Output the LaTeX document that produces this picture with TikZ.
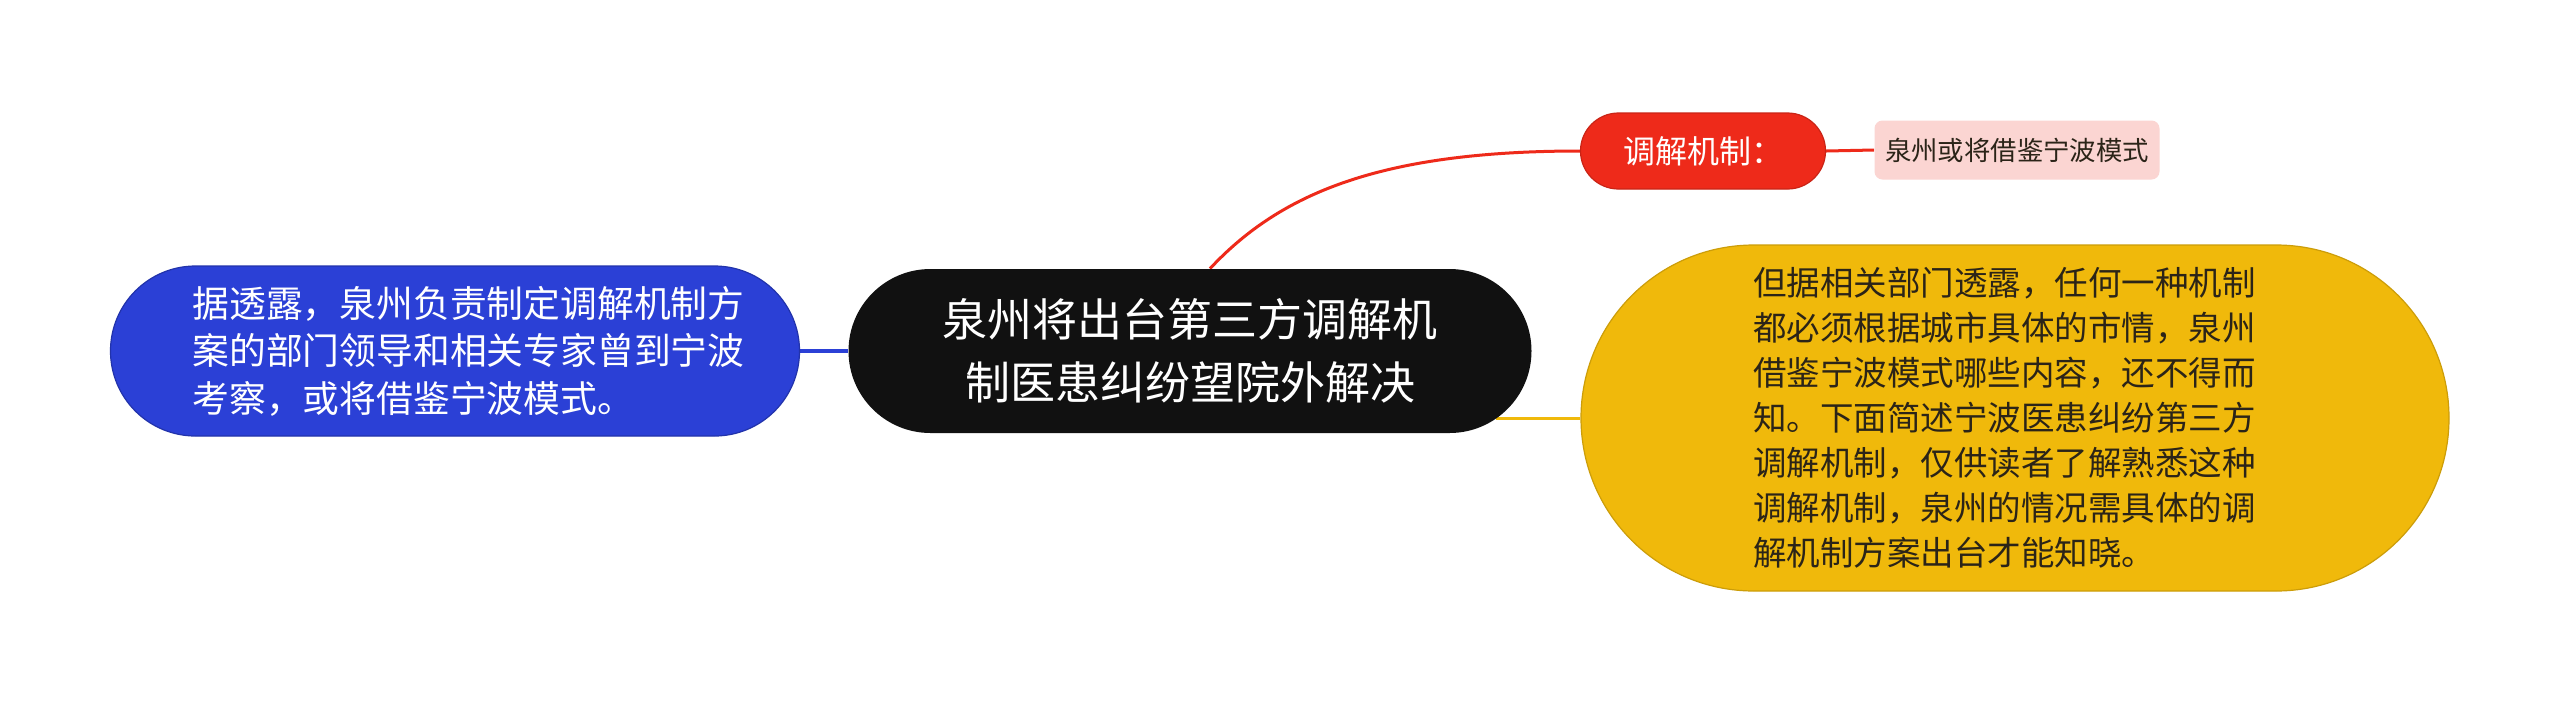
\documentclass[tikz,border=0pt]{standalone}
\usepackage{fontspec}
\setmainfont{Noto Sans CJK SC}
\usepackage{xcolor}
\definecolor{rootblack}{HTML}{111111}
\definecolor{mapblue}{HTML}{2B40D6}
\definecolor{mapred}{HTML}{EE2A1A}
\definecolor{mappink}{HTML}{FBD5D2}
\definecolor{mapyellow}{HTML}{F0B90B}
\definecolor{darktext}{HTML}{2B2418}
\usetikzlibrary{positioning, backgrounds, calc}
\tikzset{
  topicbox/.style={inner sep=0pt, align=center},
  subbox/.style={inner sep=0pt, align=left},
  branch/.style={line width=1.5pt}
}

\begin{document}
\begin{tikzpicture}[x=0.5pt, y=-0.5pt]
        \useasboundingbox (0,0) rectangle (2560,703);
        % Central topic
        \node[topicbox, fill=rootblack, rounded corners=41pt,
          minimum width=341.5pt, minimum height=82pt, text=white,
          font=\fontsize{22.5}{31.8}\selectfont]
          (root) at (1190,351) {泉州将出台第三方调解机\\制医患纠纷望院外解决};
        % Left branch (blue)
        \node[subbox, text width=262.5pt, fill=mapblue,
          draw=mapblue!80!black, line width=0.6pt,
          rounded corners=42.5pt, minimum width=344.5pt, minimum height=85pt,
          text=white, font=\fontsize{18.4}{23.7}\selectfont]
          (blue) at (455,351)
          {据透露，泉州负责制定调解机制方\\案的部门领导和相关专家曾到宁波\\考察，或将借鉴宁波模式。};
        % Upper branch (red) and its leaf
        \node[topicbox, fill=mapred, draw=mapred!85!black, line width=0.6pt,
          rounded corners=19pt, minimum width=122.5pt, minimum height=38pt,
          text=white, font=\fontsize{16}{19}\selectfont]
          (red) at (1703,151) {调解机制：};
        \node[topicbox, fill=mappink, rounded corners=4pt,
          minimum width=142.5pt, minimum height=29.5pt,
          text=darktext, font=\fontsize{13.2}{15}\selectfont]
          (pink) at (2017,150) {泉州或将借鉴宁波模式};
        % Right branch (yellow)
        \node[subbox, text width=262pt, fill=mapyellow,
          draw=mapyellow!85!black, line width=0.6pt,
          rounded corners=86.5pt, minimum width=434pt, minimum height=173pt,
          text=darktext, font=\fontsize{16.75}{22.5}\selectfont]
          (yellow) at (2015,418)
          {但据相关部门透露，任何一种机制\\都必须根据城市具体的市情，泉州\\借鉴宁波模式哪些内容，还不得而\\知。下面简述宁波医患纠纷第三方\\调解机制，仅供读者了解熟悉这种\\调解机制，泉州的情况需具体的调\\解机制方案出台才能知晓。};
        % Connectors
        \begin{scope}[on background layer]
          \fill[white] (0,0) rectangle (2560,703);
          \draw[branch, mapblue, line width=1.6pt] (blue.east) -- (root.west);
          \draw[branch, mapred]
            ($(root.north)+(10pt,0)$) .. controls +(70,-75) and +(-200,0) .. (red.west);
          \draw[branch, mapred] (red.east) -- (pink.west);
          \draw[branch, mapyellow]
            ($(root.east)+(-18pt,-33.5pt)$) -- (yellow.west);
        \end{scope}
      \end{tikzpicture}
\end{document}
